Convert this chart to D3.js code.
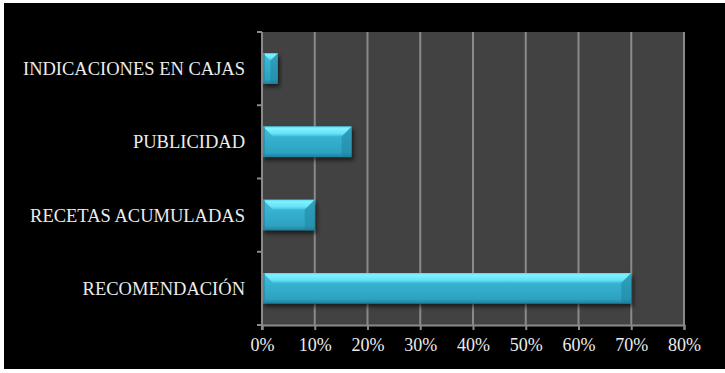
<!DOCTYPE html>
<html>
<head>
<meta charset="utf-8">
<script src="https://cdn.jsdelivr.net/npm/d3@7"></script>
<style>
  html, body { margin: 0; padding: 0; background: #ffffff; }
  svg { display: block; }
</style>
</head>
<body>
<svg id="chart" width="725" height="373"></svg>
<script>
// Categories listed bottom to top, as drawn
const categories = ["RECOMENDACIÓN", "RECETAS ACUMULADAS", "PUBLICIDAD", "INDICACIONES EN CAJAS"];
const shares = [0.70, 0.10, 0.17, 0.03];
const tickValues = [0, 0.1, 0.2, 0.3, 0.4, 0.5, 0.6, 0.7, 0.8];

const svg = d3.select("#chart");
const W = 725, H = 373;
const margin = { top: 32, right: 41, bottom: 48, left: 262 };
const serif = "'Liberation Serif', 'Times New Roman', serif";

// black card with a thin white frame on top, left and bottom
svg.append("rect").attr("x", 4).attr("y", 3).attr("width", W - 4).attr("height", 366).attr("fill", "#000");

const x = d3.scaleLinear().domain([0, 0.8]).range([margin.left, W - margin.right]);
const y = d3.scaleBand()
  .domain(categories.slice().reverse())
  .range([margin.top, H - margin.bottom])
  .paddingInner(0.58).paddingOuter(0.29);

const defs = svg.append("defs");
const bodyGrad = defs.append("linearGradient").attr("id", "barBody")
  .attr("x1", 0).attr("y1", 0).attr("x2", 0).attr("y2", 1);
[[0, "#3fbcd9"], [0.4, "#36b0cf"], [0.85, "#2da2c1"], [1, "#1e7f9a"]]
  .forEach(([o, c]) => bodyGrad.append("stop").attr("offset", o).attr("stop-color", c));
const hiGrad = defs.append("linearGradient").attr("id", "barHi")
  .attr("x1", 0).attr("y1", 0).attr("x2", 0).attr("y2", 1);
[[0, "#5bdaf0"], [0.2, "#80f2ff"], [0.7, "#66e2f7"], [1, "#3fbcd9"]]
  .forEach(([o, c]) => hiGrad.append("stop").attr("offset", o).attr("stop-color", c));

const blur = defs.append("filter").attr("id", "shadow")
  .attr("x", "-10%").attr("y", "-30%").attr("width", "130%").attr("height", "190%");
blur.append("feGaussianBlur").attr("stdDeviation", 2.2);

// plot background
svg.append("rect")
  .attr("x", x(0)).attr("y", margin.top)
  .attr("width", x(0.8) - x(0)).attr("height", H - margin.bottom - margin.top)
  .attr("fill", "#424242");

// vertical gridlines
svg.append("g").selectAll("line").data(tickValues).join("line")
  .attr("x1", d => x(d)).attr("x2", d => x(d))
  .attr("y1", margin.top).attr("y2", H - margin.bottom)
  .attr("stroke", "#8a8a8a").attr("stroke-width", 2);

const rows = categories.map((c, i) => ({ cat: c, v: shares[i] }));

// soft shadows under the bars
svg.append("g").selectAll("rect").data(rows).join("rect")
  .attr("x", x(0) + 2).attr("y", d => y(d.cat) + 3)
  .attr("width", d => x(d.v) - x(0)).attr("height", y.bandwidth())
  .attr("fill", "#000").attr("opacity", 0.6).attr("filter", "url(#shadow)");

// bars: body, bright top facet, darker end facet
const bars = svg.append("g").selectAll("g").data(rows).join("g");
const geom = d => {
  const x0 = x(0) + 1, x1 = x(d.v), y0 = y(d.cat), h = y.bandwidth();
  const b = Math.min(10, (x1 - x0) / 2);
  return { x0, x1, y0, h, b };
};
bars.append("rect")
  .attr("x", d => geom(d).x0).attr("y", d => geom(d).y0)
  .attr("width", d => geom(d).x1 - geom(d).x0).attr("height", d => geom(d).h)
  .attr("fill", "url(#barBody)");
bars.append("path")
  .attr("d", d => {
    const { x0, x1, y0, b } = geom(d);
    return `M${x0},${y0}L${x1},${y0}L${x1 - b},${y0 + b}L${x0 + b},${y0 + b}Z`;
  })
  .attr("fill", "url(#barHi)");
bars.append("path")
  .attr("d", d => {
    const { x1, y0, h, b } = geom(d);
    return `M${x1},${y0}L${x1},${y0 + h}L${x1 - b},${y0 + h}L${x1 - b},${y0 + b}Z`;
  })
  .attr("fill", "#1d7f99").attr("opacity", 0.45);
bars.append("rect")
  .attr("x", d => geom(d).x0).attr("y", d => geom(d).y0)
  .attr("width", 2).attr("height", d => geom(d).h)
  .attr("fill", "#1d7f99").attr("opacity", 0.5);

// x axis
const xAxis = svg.append("g")
  .attr("transform", `translate(0,${H - margin.bottom})`)
  .call(d3.axisBottom(x).tickValues(tickValues).tickFormat(d3.format(".0%")).tickSize(5).tickPadding(8));
xAxis.select(".domain").attr("stroke", "#8a8a8a").attr("stroke-width", 2);
xAxis.selectAll(".tick line").attr("stroke", "#8a8a8a").attr("stroke-width", 2);
xAxis.selectAll("text")
  .attr("fill", "#ececec").attr("font-family", serif)
  .attr("font-size", 18);

// y axis with ticks at band boundaries
const step = y.step();
const bounds = d3.range(categories.length + 1).map(i => margin.top + i * step);
const yAxis = svg.append("g");
yAxis.append("line")
  .attr("x1", x(0)).attr("x2", x(0))
  .attr("y1", margin.top).attr("y2", H - margin.bottom + 5)
  .attr("stroke", "#8a8a8a").attr("stroke-width", 2);
yAxis.selectAll("line.tk").data(bounds).join("line").attr("class", "tk")
  .attr("x1", x(0) - 5).attr("x2", x(0))
  .attr("y1", d => d).attr("y2", d => d)
  .attr("stroke", "#8a8a8a").attr("stroke-width", 2);
yAxis.selectAll("text").data(categories).join("text")
  .attr("x", x(0) - 17)
  .attr("y", d => y(d) + y.bandwidth() / 2)
  .attr("dy", "0.35em")
  .attr("text-anchor", "end")
  .attr("fill", "#ececec")
  .attr("font-family", serif)
  .attr("font-size", 18.5)
  .text(d => d);
</script>
</body>
</html>
